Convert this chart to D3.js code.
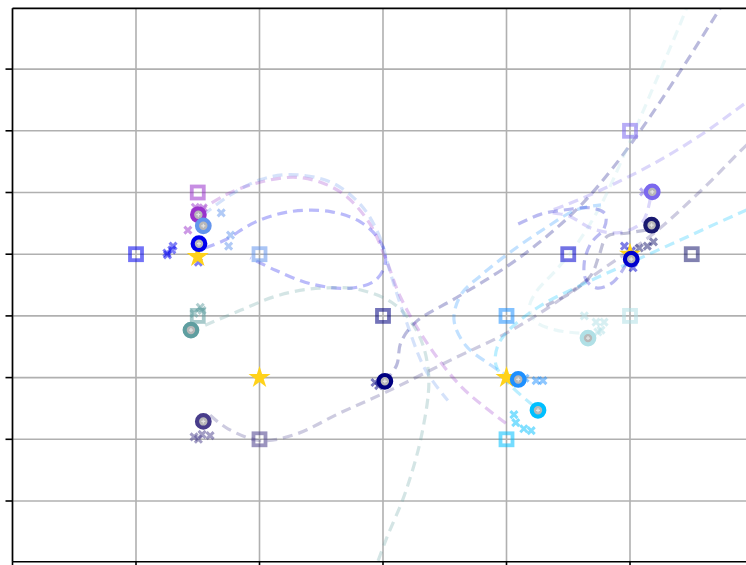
<!DOCTYPE html>
<html>
<head>
<meta charset="utf-8">
<style>
body { margin: 0; background: #fff; }
#vis { display: block; }
</style>
</head>
<body>
<svg id="vis" width="746" height="565"></svg>
<script src="https://cdn.jsdelivr.net/npm/d3@7"></script>
<script>
// agents: colour, current position, goal
var agentColors = ["#9932cc", "#6495ed", "#0000ee", "#5f9ea0", "#483d8b", "#000080",
                   "#1e90ff", "#00bfff", "#b0e0e6", "#7b68ee", "#191970", "#0000cd"];
var agentX = [-2.99, -2.91, -2.98, -3.11, -2.91, 0.03, 2.19, 2.51, 3.32, 4.36, 4.35, 4.02];
var agentY = [1.64, 1.46, 1.17, -0.23, -1.71, -1.06, -1.03, -1.53, -0.36, 2.01, 1.47, 0.92];
var goalX = [-3, -2, -4, -3, -2, 0, 2, 2, 4, 4, 5, 3];
var goalY = [2, 1, 1, 0, -2, 0, 0, -2, 0, 3, 1, 1];

// yellow stars
var starX = [-3, -2, 2, 4];
var starY = [0.96, -1, -1, 1];

// past positions (x markers), per agent
var trailX = [
  [-3.04, -2.91, -3.16],
  [-2.62, -2.47, -2.50],
  [-3.50, -3.40, -3.49, -3.42, -2.99],
  [-2.96, -2.93, -3.06],
  [-3.06, -2.93, -2.80, -2.99],
  [-0.13, -0.07],
  [2.30, 2.48, 2.59],
  [2.12, 2.15, 2.28, 2.40],
  [3.26, 3.45, 3.58, 3.53, 3.48],
  [4.22],
  [4.38, 4.28, 4.15],
  [3.91, 4.02, 4.05]
];
var trailY = [
  [1.76, 1.75, 1.39],
  [1.67, 1.31, 1.13],
  [1.02, 1.13, 0.99, 1.07, 0.87],
  [0.14, 0.09, 0.04],
  [-1.96, -1.92, -1.94, -2.00],
  [-1.08, -1.13],
  [-1.01, -1.05, -1.05],
  [-1.60, -1.73, -1.83, -1.86],
  [0.00, -0.10, -0.10, -0.23, -0.26],
  [2.01],
  [1.20, 1.13, 1.10],
  [1.13, 1.05, 0.78]
];

// predicted paths (dashed), per agent
var predX = [
  [-2.99, -2.55, -1.98, -1.33, -0.69, -0.23, 0.04, 0.29, 0.74, 1.29, 1.99],
  [-2.91, -2.47, -1.98, -1.50, -0.85, -0.36, -0.07, 0.13, 0.37, 0.69, 1.05],
  [-2.88, -2.56, -2.07, -1.50, -0.85, -0.36, -0.04, 0.04, -0.12, -0.52, -1.17, -1.74, -2.15],
  [-2.88, -2.31, -1.67, -1.02, -0.36, 0.21, 0.58, 0.74, 0.64, 0.37, 0.04, -0.17],
  [-2.80, -2.51, -1.99, -1.42, -0.69, 0.04, 1.15, 1.96, 2.61, 3.53, 4.35, 5.16, 5.90, 6.62],
  [0.03, 0.22, 0.29, 0.53, 1.18, 1.99, 2.64, 3.21, 3.70, 4.18, 4.83, 5.45, 5.68],
  [2.07, 1.75, 1.34, 1.15, 1.26, 1.59, 2.07, 2.64, 3.13, 3.53],
  [2.43, 2.07, 1.83, 1.86, 2.07, 2.56, 3.21, 4.02, 4.99, 5.90, 6.62],
  [3.18, 2.80, 2.48, 2.37, 2.48, 2.80, 3.13, 3.53, 3.94, 4.43, 4.91, 5.03],
  [4.33, 4.20, 3.83, 3.40, 3.01, 2.72, 2.97, 3.53, 4.35, 5.16, 5.90, 6.62],
  [4.26, 3.94, 3.63, 3.50, 3.37, 3.05, 2.64],
  [3.94, 3.73, 3.47, 3.29, 3.26, 3.37, 3.58, 3.60, 3.37, 2.96, 2.56, 2.15]
];
var predY = [
  [1.69, 1.96, 2.17, 2.24, 2.01, 1.52, 0.94, 0.29, -0.48, -1.17, -1.74],
  [1.64, 1.96, 2.21, 2.29, 2.17, 1.80, 1.32, 0.66, -0.07, -0.88, -1.37],
  [1.10, 1.23, 1.52, 1.69, 1.69, 1.52, 1.20, 0.87, 0.58, 0.45, 0.52, 0.74, 0.94],
  [-0.15, 0.09, 0.34, 0.45, 0.42, 0.17, -0.31, -0.96, -1.86, -2.84, -3.65, -4.22],
  [-1.61, -1.83, -2.02, -1.92, -1.57, -1.24, -0.69, -0.30, 0.09, 0.74, 1.31, 2.04, 2.78, 3.43],
  [-1.06, -0.80, -0.43, -0.10, 0.29, 0.79, 1.28, 1.80, 2.37, 3.02, 3.99, 4.97, 5.33],
  [-1.01, -0.80, -0.48, -0.07, 0.34, 0.66, 1.04, 1.43, 1.72, 1.80],
  [-1.45, -1.13, -0.80, -0.48, -0.20, 0.17, 0.50, 0.87, 1.31, 1.72, 2.00],
  [-0.28, -0.23, -0.10, 0.13, 0.39, 0.74, 1.15, 1.80, 2.69, 3.83, 4.97, 5.30],
  [1.91, 1.52, 1.35, 1.41, 1.62, 1.69, 1.80, 2.04, 2.45, 2.94, 3.47, 3.96],
  [1.39, 1.34, 1.29, 0.98, 0.66, 0.38, 0.17],
  [0.84, 0.55, 0.45, 0.58, 0.87, 1.18, 1.42, 1.65, 1.75, 1.72, 1.65, 1.47]
];

var xTicks = [-6, -4, -2, 0, 2, 4, 6];
var yTicks = [-3, -2, -1, 0, 1, 2, 3, 4];
var xMin = -6, xMax = 6, yMin = -3.985, yMax = 4.985;

var svg = d3.select("#vis");

var x = d3.scaleLinear().domain([-6, 6]).range([12.5, 753.5]);
var y = d3.scaleLinear().domain([-4, 5]).range([562.7, 7.4]);

svg.append("clipPath").attr("id", "clip")
  .append("rect")
  .attr("x", x(xMin)).attr("y", y(yMax))
  .attr("width", x(xMax) - x(xMin)).attr("height", y(yMin) - y(yMax));

// grid
var grid = svg.append("g");
grid.selectAll(".gx").data(xTicks).enter().append("line")
  .attr("x1", function(d) { return x(d); }).attr("x2", function(d) { return x(d); })
  .attr("y1", y(yMin)).attr("y2", y(yMax))
  .attr("stroke", "#b0b0b0").attr("stroke-width", 1.6);
grid.selectAll(".gy").data(yTicks).enter().append("line")
  .attr("y1", function(d) { return y(d); }).attr("y2", function(d) { return y(d); })
  .attr("x1", x(xMin)).attr("x2", x(xMax))
  .attr("stroke", "#b0b0b0").attr("stroke-width", 1.6);

var plot = svg.append("g").attr("clip-path", "url(#clip)");

// dashed predictions
var line = d3.line()
  .x(function(d) { return x(d[0]); })
  .y(function(d) { return y(d[1]); })
  .curve(d3.curveCatmullRom.alpha(0.5));

agentColors.forEach(function(c, i) {
  var pts = predX[i].map(function(v, j) { return [v, predY[i][j]]; });
  plot.append("path")
    .attr("d", line(pts))
    .attr("fill", "none")
    .attr("stroke", c)
    .attr("stroke-opacity", 0.27)
    .attr("stroke-width", 3.2)
    .attr("stroke-dasharray", "10,6");
});

// goals
plot.selectAll(".goal").data(agentColors).enter().append("rect")
  .attr("x", function(d, i) { return x(goalX[i]) - 6; })
  .attr("y", function(d, i) { return y(goalY[i]) - 6; })
  .attr("width", 12).attr("height", 12)
  .attr("fill", "none")
  .attr("stroke", function(d) { return d; })
  .attr("stroke-opacity", 0.55)
  .attr("stroke-width", 3.8);

// past positions
var cross = "M-3.5,-3.5L3.5,3.5M-3.5,3.5L3.5,-3.5";
agentColors.forEach(function(c, i) {
  trailX[i].forEach(function(v, j) {
    plot.append("path")
      .attr("d", cross)
      .attr("transform", "translate(" + x(v) + "," + y(trailY[i][j]) + ")")
      .attr("fill", "none")
      .attr("stroke", c)
      .attr("stroke-opacity", 0.5)
      .attr("stroke-width", 3);
  });
});

// stars
var star = d3.symbol().type(d3.symbolStar).size(150);
plot.selectAll(".star").data(starX).enter().append("path")
  .attr("d", star)
  .attr("transform", function(d, i) { return "translate(" + x(d) + "," + y(starY[i]) + ")"; })
  .attr("fill", "#ffd21a");

// agents
var ag = plot.selectAll(".agent").data(agentColors).enter().append("g")
  .attr("transform", function(d, i) { return "translate(" + x(agentX[i]) + "," + y(agentY[i]) + ")"; });
ag.append("circle")
  .attr("r", 6.3)
  .attr("fill", "#b8b8b8")
  .attr("stroke", function(d) { return d; })
  .attr("stroke-width", 4.2);
ag.append("path")
  .attr("d", "M-2,0L2,0M0,-2L0,2")
  .attr("stroke", "#e4e4e4")
  .attr("stroke-width", 1.2);

// spines and ticks
var axes = svg.append("g").attr("stroke", "#000");
axes.append("line").attr("x1", x(xMin)).attr("x2", x(xMin)).attr("y1", y(yMax)).attr("y2", y(yMin)).attr("stroke-width", 1.6);
axes.append("line").attr("x1", x(xMin)).attr("x2", x(xMax)).attr("y1", y(yMax)).attr("y2", y(yMax)).attr("stroke-width", 1.6);
axes.append("line").attr("x1", x(xMin)).attr("x2", x(xMax)).attr("y1", y(yMin)).attr("y2", y(yMin)).attr("stroke-width", 1.6);
axes.append("line").attr("x1", x(xMax)).attr("x2", x(xMax)).attr("y1", y(yMax)).attr("y2", y(yMin)).attr("stroke-width", 1.6);
axes.selectAll(".ty").data(yTicks).enter().append("line")
  .attr("x1", x(xMin) - 7).attr("x2", x(xMin))
  .attr("y1", function(d) { return y(d); }).attr("y2", function(d) { return y(d); })
  .attr("stroke-width", 1.6);
axes.selectAll(".tx").data(xTicks).enter().append("line")
  .attr("x1", function(d) { return x(d); }).attr("x2", function(d) { return x(d); })
  .attr("y1", y(yMin)).attr("y2", y(yMin) + 7)
  .attr("stroke-width", 1.6);
</script>
</body>
</html>
